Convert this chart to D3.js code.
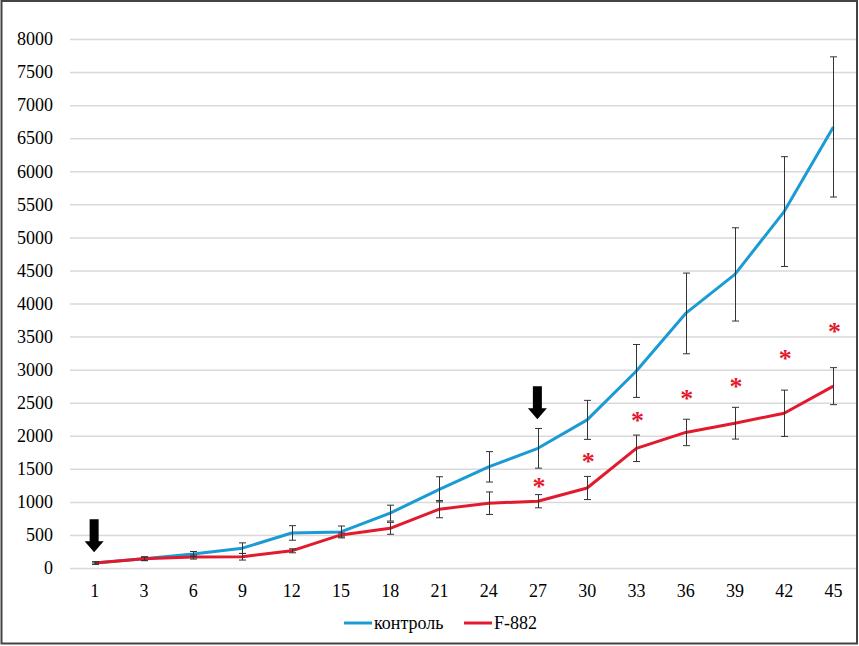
<!DOCTYPE html>
<html>
<head>
<meta charset="utf-8">
<script src="https://cdn.jsdelivr.net/npm/d3@7"></script>
<style>
  html, body { margin: 0; padding: 0; background: #fff; }
  svg { display: block; }
</style>
</head>
<body>
<svg id="chart" width="859" height="646"></svg>
<script>
// ---- data ----
const days = ["1","3","6","9","12","15","18","21","24","27","30","33","36","39","42","45"];
const controlValues = [75, 140, 210, 300, 530, 545, 830, 1190, 1530, 1810, 2240, 2980, 3850, 4440, 5390, 6670];
const controlErrors = [20, 30, 40, 80, 110, 90, 120, 190, 230, 300, 295, 400, 610, 705, 830, 1060];
const f882Values = [75, 140, 165, 170, 260, 500, 600, 890, 980, 1010, 1210, 1810, 2050, 2190, 2340, 2750];
const f882Errors = [15, 25, 30, 50, 30, 30, 90, 130, 170, 100, 175, 200, 200, 240, 350, 280];
const starDays = ["27","30","33","36","39","42","45"];
const starValues = [1280, 1660, 2290, 2620, 2800, 3220, 3630];
const arrowDays = ["1","27"];
const arrowTipValues = [240, 2250];
const yTicks = [0,500,1000,1500,2000,2500,3000,3500,4000,4500,5000,5500,6000,6500,7000,7500,8000];
const seriesNames = ["контроль", "F-882"];
const seriesColors = ["#1b9bd3", "#e3192d"];

const FONT = "'Liberation Serif', 'Times New Roman', serif";

// ---- layout ----
const svg = d3.select("#chart");
const plotLeft = 70, plotRight = 858, plotTop = 39, plotBottom = 568;

// frame
svg.append("rect").attr("x", 1.5).attr("y", 1).attr("width", 855.5).attr("height", 642.5)
  .attr("fill", "#fff").attr("stroke", "#444").attr("stroke-width", 2);

const x = d3.scaleBand().domain(days).range([plotLeft, plotRight]).paddingInner(0).paddingOuter(0);
const y = d3.scaleLinear().domain([0, 8000]).range([plotBottom, plotTop]);
const cx = d => x(d) + x.bandwidth() / 2;

// gridlines + y tick labels via axis
const yAxis = d3.axisLeft(y).tickValues(yTicks).tickSize(-(856 - plotLeft)).tickPadding(17).tickFormat(d3.format("d"));
const gy = svg.append("g").attr("transform", `translate(${plotLeft},0)`).call(yAxis)
  .attr("font-family", null).attr("font-size", null);
gy.select(".domain").remove();
gy.selectAll(".tick line").attr("stroke", "#d9d9d9").attr("stroke-width", 1.5);
gy.selectAll(".tick text").style("font-size", "18px").style("font-family", FONT).attr("fill", "#000");

// x axis labels
const xAxis = d3.axisBottom(x).tickSize(0).tickPadding(16);
const gx = svg.append("g").attr("transform", `translate(0,${plotBottom})`).call(xAxis)
  .attr("font-family", null).attr("font-size", null);
gx.select(".domain").remove();
gx.selectAll(".tick text").style("font-size", "18px").style("font-family", FONT).attr("fill", "#000");

// lines
const line = d3.line().x((d, i) => cx(days[i])).y(d => y(d));
const seriesVals = [controlValues, f882Values];
const seriesErrs = [controlErrors, f882Errors];

[0, 1].forEach(s => {
  svg.append("path").datum(seriesVals[s])
    .attr("d", line).attr("fill", "none")
    .attr("stroke", seriesColors[s]).attr("stroke-width", 3)
    .attr("stroke-linejoin", "round");
});

// error bars
[0, 1].forEach(s => {
  const g = svg.append("g").attr("stroke", "#333").attr("stroke-width", 1);
  seriesVals[s].forEach((v, i) => {
    const e = seriesErrs[s][i];
    const px = Math.round(cx(days[i])) + 0.5;
    const y1 = y(v + e), y2 = y(v - e);
    g.append("line").attr("x1", px).attr("x2", px).attr("y1", y1).attr("y2", y2);
    g.append("line").attr("x1", px - 3.5).attr("x2", px + 3.5).attr("y1", y1).attr("y2", y1);
    g.append("line").attr("x1", px - 3.5).attr("x2", px + 3.5).attr("y1", y2).attr("y2", y2);
  });
});

// significance stars
svg.append("g").selectAll("text").data(starDays).join("text")
  .attr("x", d => cx(d) + 1)
  .attr("y", (d, i) => y(starValues[i]) + 12)
  .attr("text-anchor", "middle")
  .style("font-size", "26px").style("font-weight", "bold").style("font-family", FONT)
  .style("fill", "#e3192d")
  .text("*");

// arrows (tip at data value)
svg.append("g").selectAll("path").data(arrowDays).join("path")
  .attr("d", (d, i) => {
    const tx = cx(d) - 0.5, ty = y(arrowTipValues[i]);
    const sw = 4.5, hw = 9.5, hh = 11, total = 33;
    return `M${tx - sw},${ty - total} L${tx + sw},${ty - total} L${tx + sw},${ty - hh} L${tx + hw},${ty - hh} L${tx},${ty} L${tx - hw},${ty - hh} L${tx - sw},${ty - hh} Z`;
  })
  .attr("fill", "#000");

// legend
const legend = svg.append("g");
const legendItems = [
  { name: seriesNames[0], color: seriesColors[0], x: 344 },
  { name: seriesNames[1], color: seriesColors[1], x: 464 }
];
legendItems.forEach(it => {
  legend.append("line").attr("x1", it.x).attr("x2", it.x + 28).attr("y1", 623).attr("y2", 623)
    .attr("stroke", it.color).attr("stroke-width", 3);
  legend.append("text").attr("x", it.x + 30).attr("y", 629)
    .style("font-size", "18px").style("font-family", FONT).style("fill", "#000")
    .text(it.name);
});
</script>
</body>
</html>
